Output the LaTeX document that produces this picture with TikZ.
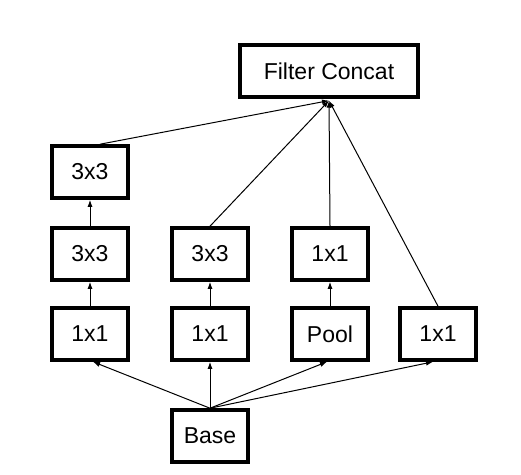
\documentclass[tikz,border=0pt]{standalone}
\usepackage{fontspec}
\setmainfont{Liberation Sans}
\usetikzlibrary{arrows.meta}
\begin{document}
\begin{tikzpicture}[x=1pt,y=1pt,
  blk/.style={draw,line width=3.6pt,minimum width=76pt,minimum height=52pt,inner sep=0pt,font=\fontsize{23}{26}\selectfont},
  arr/.style={line width=1pt,-{Latex[length=7pt,width=5pt]}}]
\useasboundingbox (0,0) rectangle (521,-474);
\node[blk,minimum width=178pt] (fc) at (329,-71) {Filter Concat};
\node[blk] (a3) at (90,-172) {3x3};
\node[blk] (a2) at (90,-254) {3x3};
\node[blk] (a1) at (90,-334) {1x1};
\node[blk] (b2) at (210,-254) {3x3};
\node[blk] (b1) at (210,-334) {1x1};
\node[blk] (c2) at (330,-254) {1x1};
\node[blk] (c1) at (330,-334) {Pool};
\node[blk] (d1) at (438,-334) {1x1};
\node[blk] (base) at (210,-436) {Base};
\coordinate (fcin) at ([yshift=-1.8pt]fc.south);
\draw[arr] (a1) -- (a2);
\draw[arr] (a2) -- (a3);
\draw[arr] (b1) -- (b2);
\draw[arr] (c1) -- (c2);
\draw[arr] ([xshift=10pt]a3.north) -- (fcin);
\draw[arr] (b2.north) -- (fcin);
\draw[arr] (c2.north) -- (fcin);
\draw[arr] (d1.north) -- (fcin);
\draw[arr] (base.north) -- ([xshift=3pt]a1.south);
\draw[arr] (base.north) -- (b1.south);
\draw[arr] (base.north) -- ([xshift=-3pt]c1.south);
\draw[arr] (base.north) -- ([xshift=-5pt]d1.south);
\end{tikzpicture}
\end{document}
